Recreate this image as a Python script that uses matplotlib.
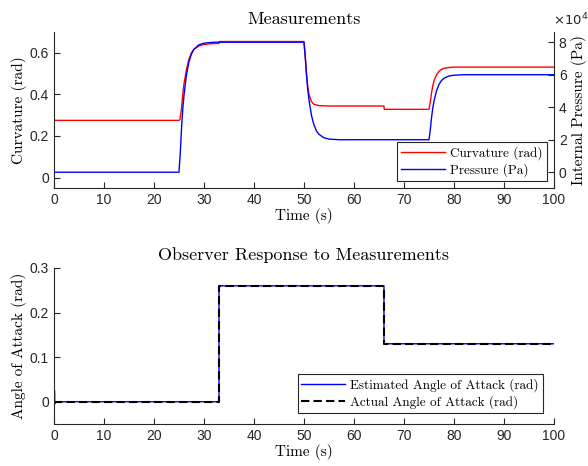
import matplotlib
matplotlib.use("Agg")
import matplotlib.pyplot as plt
from matplotlib.ticker import FuncFormatter

# ---------------- data ----------------
curv_t = [0, 0.1, 25.0, 25.2, 25.5, 25.75, 26, 26.5, 27, 27.5, 28, 29, 30, 31, 33, 33.05,
          50, 50.25, 50.5, 50.75, 51, 51.5, 52, 53, 55, 66, 66.05,
          75, 75.25, 75.5, 75.75, 76, 76.5, 77, 77.5, 78, 79, 80, 100]
curv_v = [0.30, 0.275, 0.275, 0.28, 0.33, 0.40, 0.45, 0.52, 0.57, 0.60, 0.617, 0.633, 0.64, 0.643, 0.645, 0.654,
          0.654, 0.58, 0.50, 0.44, 0.40, 0.365, 0.352, 0.346, 0.344, 0.344, 0.328,
          0.328, 0.36, 0.405, 0.44, 0.464, 0.494, 0.511, 0.52, 0.525, 0.529, 0.531, 0.531]

pres_t = [0, 25.0, 25.25, 25.5, 25.75, 26, 26.5, 27, 27.5, 28, 29, 30, 32,
          50, 50.25, 50.5, 50.75, 51, 51.5, 52, 52.5, 53, 54, 55, 57,
          75, 75.25, 75.5, 75.75, 76, 76.5, 77, 77.5, 78, 79, 80, 82, 100]
pres_v = [0, 0, 1.12e4, 2.64e4, 3.84e4, 4.72e4, 6.0e4, 6.8e4, 7.28e4, 7.56e4, 7.84e4, 7.94e4, 8.0e4,
          8.0e4, 7.16e4, 6.02e4, 5.12e4, 4.46e4, 3.5e4, 2.9e4, 2.54e4, 2.33e4, 2.12e4, 2.04e4, 2.0e4,
          2.0e4, 2.56e4, 3.32e4, 3.92e4, 4.36e4, 5.0e4, 5.4e4, 5.64e4, 5.78e4, 5.92e4, 5.97e4, 6.0e4, 6.0e4]

est_t = [0, 0.05, 0.1, 0.15, 0.2, 0.3, 33, 33, 66, 66, 100]
est_v = [0.1, -0.019, 0.025, -0.005, 0.0, 0.0, 0.0, 0.26, 0.26, 0.13, 0.13]

act_t = [0, 33, 33, 66, 66, 100]
act_v = [0, 0, 0.26, 0.26, 0.13, 0.13]

xticks = [0, 10, 20, 30, 40, 50, 60, 70, 80, 90, 100]

# ---------------- style ----------------
SERIF = 'cmr10'
SANS = 'Liberation Sans'
AXC = '#262626'
plt.rcParams['font.family'] = SANS
plt.rcParams['axes.unicode_minus'] = False

fig = plt.figure(figsize=(5.88, 4.66), dpi=100)

def style_axis(ax, right=False):
    ax.spines['top'].set_visible(False)
    if not right:
        ax.spines['right'].set_visible(False)
    for s in ax.spines.values():
        s.set_color(AXC)
        s.set_linewidth(0.8)
    ax.tick_params(direction='in', length=4, width=0.8, colors=AXC,
                   labelsize=10, labelcolor=AXC)

# ---------------- top axes ----------------
ax1 = fig.add_axes([0.0918, 0.5966, 0.8503, 0.3348])
l1, = ax1.plot(curv_t, curv_v, color='#ff0000', lw=1.0, label='Curvature (rad)')
ax1.set_xlim(0, 100)
ax1.set_ylim(-0.05, 0.7)
ax1.set_xticks(xticks)
ax1.set_yticks([0, 0.2, 0.4, 0.6])
ax1.yaxis.set_major_formatter(FuncFormatter(lambda v, p: f'{v:g}'))
style_axis(ax1)
ax1.set_xlabel('Time (s)', fontfamily=SERIF, fontsize=11, labelpad=1)
ax1.set_ylabel('Curvature (rad)', fontfamily=SERIF, fontsize=11, labelpad=2)
ax1.set_title('Measurements', fontfamily=SERIF, fontsize=13, pad=6)

ax2 = ax1.twinx()
l2, = ax2.plot(pres_t, pres_v, color='#0000ff', lw=1.0, label='Pressure (Pa)')
ax2.set_ylim(-0.97e4, 8.63e4)
ax2.set_yticks([0, 2e4, 4e4, 6e4, 8e4])
ax2.yaxis.set_major_formatter(FuncFormatter(lambda v, p: f'{v/1e4:g}'))
ax2.spines['left'].set_visible(False)
ax2.spines['bottom'].set_visible(False)
style_axis(ax2, right=True)
ax2.set_ylabel('Internal Pressure (Pa)', fontfamily=SERIF, fontsize=11, labelpad=3)
ax2.text(0.999, 1.025, r'$\times10^{4}$', transform=ax2.transAxes, fontsize=9.5,
         color=AXC, ha='left', va='bottom', math_fontfamily='dejavusans')

leg1 = ax2.legend(handles=[l1, l2], loc='lower right',
                  prop={'family': SERIF, 'size': 9.5}, fancybox=False,
                  edgecolor=AXC, framealpha=1, handlelength=3.3,
                  borderaxespad=0.55, borderpad=0.3, labelspacing=0.25,
                  handletextpad=0.4)
leg1.get_frame().set_linewidth(0.8)

# ---------------- bottom axes ----------------
ax3 = fig.add_axes([0.0918, 0.0901, 0.8503, 0.3348])
l3, = ax3.plot(est_t, est_v, color='#0000ff', lw=1.0, label='Estimated Angle of Attack (rad)')
l4, = ax3.plot(act_t, act_v, color='black', lw=1.5, linestyle=(0, (4, 2)),
               label='Actual Angle of Attack (rad)')
ax3.set_xlim(0, 100)
ax3.set_ylim(-0.05, 0.3)
ax3.set_xticks(xticks)
ax3.set_yticks([0, 0.1, 0.2, 0.3])
ax3.yaxis.set_major_formatter(FuncFormatter(lambda v, p: f'{v:g}'))
style_axis(ax3)
ax3.set_xlabel('Time (s)', fontfamily=SERIF, fontsize=11, labelpad=1)
ax3.set_ylabel('Angle of Attack (rad)', fontfamily=SERIF, fontsize=11, labelpad=2)
ax3.set_title('Observer Response to Measurements', fontfamily=SERIF, fontsize=13, pad=6)
leg3 = ax3.legend(loc='lower right', prop={'family': SERIF, 'size': 9.5},
                  fancybox=False, edgecolor=AXC, framealpha=1, handlelength=3.3,
                  borderaxespad=0.85, borderpad=0.3, labelspacing=0.25,
                  handletextpad=0.4)
leg3.get_frame().set_linewidth(0.8)

fig.savefig('out.png', dpi=100)
